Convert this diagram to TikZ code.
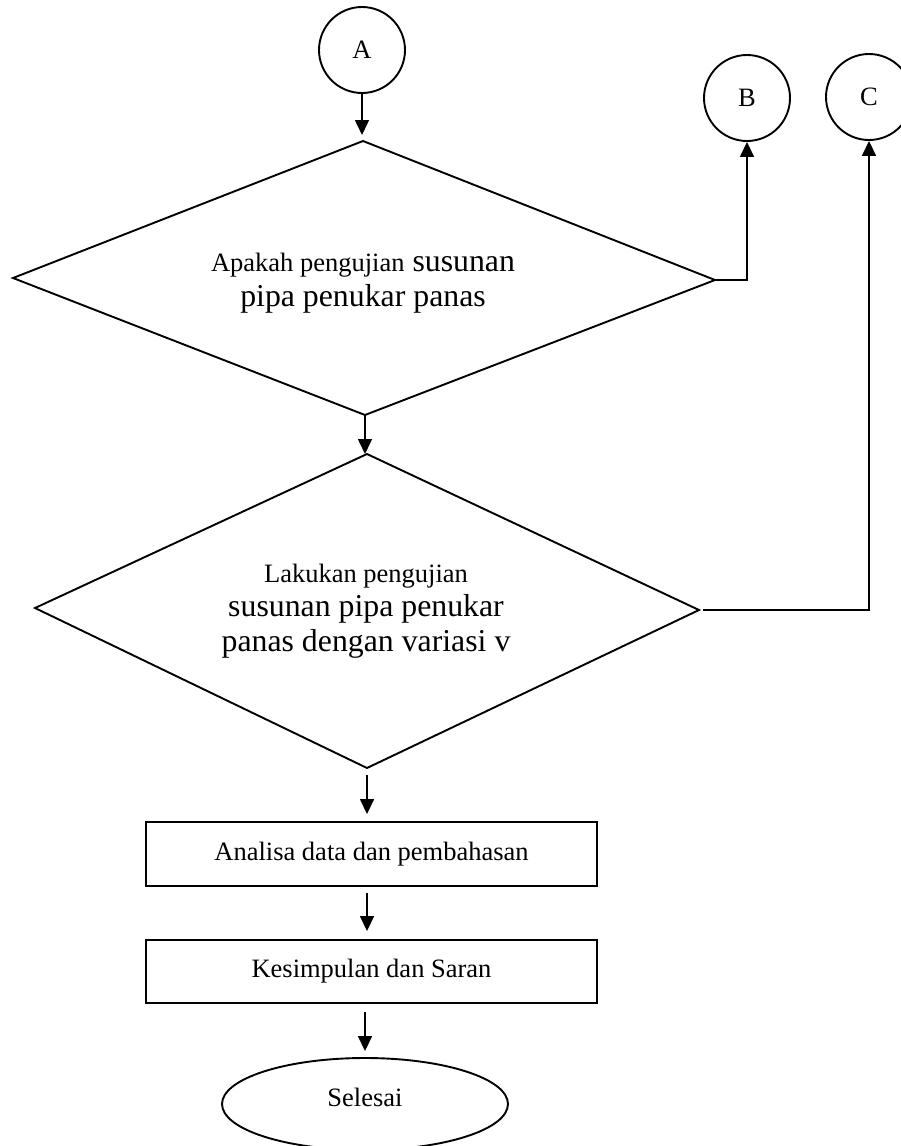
\documentclass[tikz,border=0pt]{standalone}
\usepackage{fontspec}
\setmainfont{Liberation Serif}
\usetikzlibrary{arrows.meta,shapes.geometric}
\newcommand\smsize{\fontsize{26.5}{34}\selectfont}
\newcommand\lgsize{\fontsize{31.8}{34.5}\selectfont}
\begin{document}
\begin{tikzpicture}[x=1pt,y=-1pt,
  shapeline/.style={draw, line width=1.9pt},
  conn/.style={line width=1.5pt},
  arr/.style={conn, -{Triangle[length=15pt,width=14pt]}},
  connector/.style={circle, shapeline, minimum size=86pt, inner sep=0pt, font=\smsize},
  procbox/.style={shapeline, minimum width=451pt, inner sep=0pt, font=\smsize},
  ]
\useasboundingbox (0,0) rectangle (901,1146);

% connectors (circles)
\node[connector] (A) at (362,50) {A};
\node[connector] (B) at (747,98) {B};
\node[connector] (C) at (869,97) {C};

% decision 1
\coordinate (d1t) at (363,141);
\coordinate (d1l) at (13,278);
\coordinate (d1r) at (715,280);
\coordinate (d1b) at (365,415);
\draw[shapeline, line join=miter] (d1t) -- (d1r) -- (d1b) -- (d1l) -- cycle;
\node[align=center, font=\lgsize] (t1) at (363,283)
  {{\smsize Apakah pengujian} susunan\\pipa penukar panas};

% decision 2
\coordinate (d2t) at (367,454);
\coordinate (d2l) at (35,608);
\coordinate (d2r) at (699,610);
\coordinate (d2b) at (367,768);
\draw[shapeline, line join=miter] (d2t) -- (d2r) -- (d2b) -- (d2l) -- cycle;
\node[align=center, font=\lgsize] (t2) at (366,611)
  {{\smsize Lakukan pengujian}\\susunan pipa penukar\\panas dengan variasi v};

% process boxes
\node[procbox, minimum height=64pt] (b1) at (371.5,854) {Analisa data dan pembahasan};
\node[procbox, minimum height=63pt] (b2) at (371.5,971.5) {Kesimpulan dan Saran};

% terminator
\node[ellipse, shapeline, minimum width=286pt, minimum height=92pt, inner sep=0pt] (e) at (365,1104) {};
\node[font=\smsize] (et) at (365,1097) {Selesai};

% arrows
\draw[arr, shorten >=6pt] (A.south) -- (A.south |- d1t);
\draw[arr] (d1b) -- (d1b |- d2t);
\draw[arr, shorten <=7pt, shorten >=7pt] (d2b) -- (d2b |- b1.north);
\draw[arr, shorten <=6pt, shorten >=8pt] (b1.south -| d2b) -- (b2.north -| d2b);
\draw[arr, shorten <=8pt, shorten >=6pt] (b2.south -| e.north) -- (e.north);
\draw[arr] (d1r) -| (B.south);
\draw[arr, shorten <=4pt] (d2r) -| (C.south);
\end{tikzpicture}
\end{document}
